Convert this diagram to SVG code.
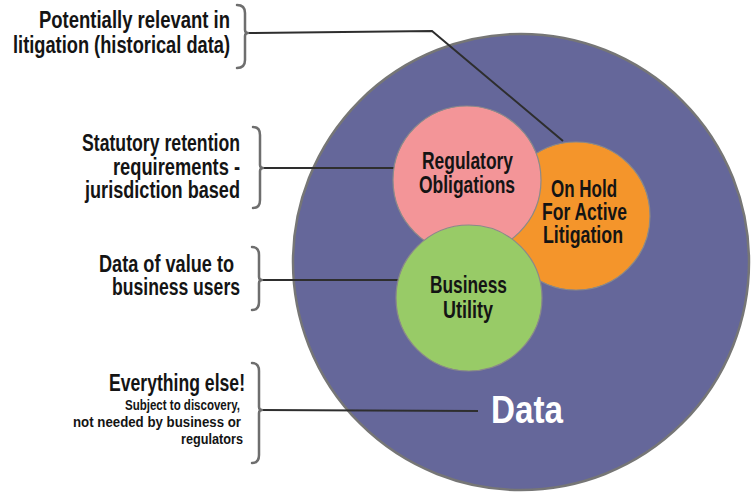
<svg xmlns="http://www.w3.org/2000/svg" width="751" height="493" viewBox="0 0 751 493">
<style>
.lbl{font-family:"Liberation Sans",Arial,sans-serif;font-weight:bold;fill:#141414}
.big{font-size:23px}
.sm{font-size:15.5px}
.br{fill:none;stroke:#6e6e6e;stroke-width:2.5;stroke-linecap:round;stroke-linejoin:round}
.cn{fill:none;stroke:#2e2e2e;stroke-width:2}
.c{stroke:#8a8a8a;stroke-width:1.2}
</style>
<rect width="751" height="493" fill="#ffffff"/>
<g id="data">
<circle cx="521" cy="262" r="228" fill="#65679a" stroke="#767676" stroke-width="2.5"/>
<text class="lbl" x="491" y="423" font-size="39" style="fill:#ffffff" textLength="72" lengthAdjust="spacingAndGlyphs">Data</text>
</g>
<g id="connectors">
<path class="cn" d="M248,33 L432,31 L563,141"/>
<path class="cn" d="M262,168 L395,168"/>
<path class="cn" d="M261,280 L399,280"/>
<path class="cn" d="M261,410 L478,411"/>
</g>
<g id="onhold">
<circle class="c" cx="576" cy="216" r="74" fill="#f4952b"/>
<text class="lbl big" x="551" y="197" textLength="66" lengthAdjust="spacingAndGlyphs">On Hold</text>
<text class="lbl big" x="542" y="220" textLength="85" lengthAdjust="spacingAndGlyphs">For Active</text>
<text class="lbl big" x="543" y="243" textLength="80" lengthAdjust="spacingAndGlyphs">Litigation</text>
</g>
<g id="regulatory">
<circle class="c" cx="467" cy="180" r="74" fill="#f39598"/>
<text class="lbl big" x="422" y="169" textLength="91" lengthAdjust="spacingAndGlyphs">Regulatory</text>
<text class="lbl big" x="419" y="193" textLength="96" lengthAdjust="spacingAndGlyphs">Obligations</text>
</g>
<g id="business">
<circle class="c" cx="469" cy="298" r="73" fill="#98cb67"/>
<text class="lbl big" x="430" y="293" textLength="77" lengthAdjust="spacingAndGlyphs">Business</text>
<text class="lbl big" x="443" y="318" textLength="50" lengthAdjust="spacingAndGlyphs">Utility</text>
</g>
<g id="label-litigation">
<path class="br" d="M237,5 Q245,5 245,13 L245,30 Q245,33 248,33 Q245,33 245,36 L245,60 Q245,68 237,68"/>
<text class="lbl big" x="39" y="28" textLength="191" lengthAdjust="spacingAndGlyphs">Potentially relevant in</text>
<text class="lbl big" x="13" y="53" textLength="217" lengthAdjust="spacingAndGlyphs">litigation (historical data)</text>
</g>
<g id="label-statutory">
<path class="br" d="M253,127 Q260,127 260,135 L260,165 Q260,168 263,168 Q260,168 260,171 L260,200 Q260,208 253,208"/>
<text class="lbl big" x="82" y="151" textLength="158" lengthAdjust="spacingAndGlyphs">Statutory retention</text>
<text class="lbl big" x="113" y="175" textLength="127" lengthAdjust="spacingAndGlyphs">requirements -</text>
<text class="lbl big" x="85" y="198" textLength="155" lengthAdjust="spacingAndGlyphs">jurisdiction based</text>
</g>
<g id="label-value">
<path class="br" d="M252,247 Q259,247 259,255 L259,277 Q259,280 262,280 Q259,280 259,283 L259,302 Q259,310 252,310"/>
<text class="lbl big" x="99" y="272" textLength="135" lengthAdjust="spacingAndGlyphs">Data of value to</text>
<text class="lbl big" x="112" y="295" textLength="128" lengthAdjust="spacingAndGlyphs">business users</text>
</g>
<g id="label-else">
<path class="br" d="M252,363 Q259,363 259,371 L259,407 Q259,410 262,410 Q259,410 259,413 L259,455 Q259,463 252,463"/>
<text class="lbl" x="109" y="391" font-size="24" textLength="136" lengthAdjust="spacingAndGlyphs">Everything else!</text>
<text class="lbl sm" x="125" y="410" textLength="115" lengthAdjust="spacingAndGlyphs">Subject to discovery,</text>
<text class="lbl sm" x="73" y="427" textLength="168" lengthAdjust="spacingAndGlyphs">not needed by business or</text>
<text class="lbl sm" x="181" y="444" textLength="62" lengthAdjust="spacingAndGlyphs">regulators</text>
</g>
</svg>
